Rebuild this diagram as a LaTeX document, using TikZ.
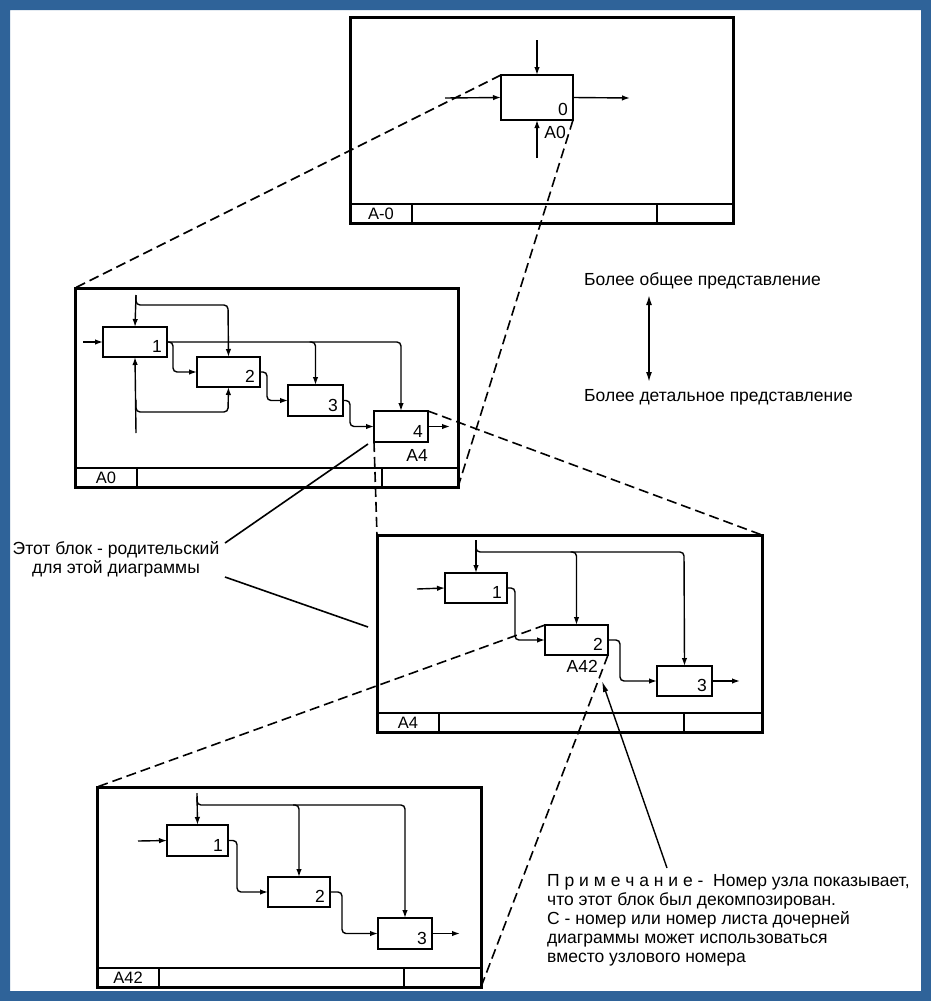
\documentclass[tikz,border=0pt]{standalone}
\usepackage{fontspec}
\setmainfont{Liberation Sans}
\usetikzlibrary{arrows.meta,calc}
\definecolor{bordblue}{HTML}{2F6399}
\newcommand\idframe[6]{%
  \node[frm, minimum width=#4pt, minimum height=#5pt] (#1) at (#2,#3) {};
  \draw[bar] ($(#1.south west)+(0,-19)$) -- ($(#1.south east)+(0,-19)$);
  \draw[bar] ($(#1.south west)+(62,0)$) -- ++(0,-19);
  \draw[bar] ($(#1.south west)+(307,0)$) -- ++(0,-19);
  \node[ttl] (#1t) at ($(#1.south west)+(31,-9.5)$) {#6};
}
\begin{document}
\begin{tikzpicture}[x=1pt,y=-1pt,
  frm/.style={draw, line width=3pt, inner sep=0pt, outer sep=0pt, anchor=north west},
  bar/.style={line width=2.8pt},
  blk/.style={draw, line width=2.8pt, inner sep=0pt, outer sep=0pt, anchor=north west},
  conn/.style={line width=1.4pt, rounded corners=4pt, -{Latex[length=8pt,width=5.5pt]}},
  dsh/.style={line width=1.6pt, dash pattern=on 10pt off 5pt},
  num/.style={font=\fontsize{17.5}{17.5}\selectfont, inner sep=0pt, anchor=south east},
  ttl/.style={font=\fontsize{16.5}{16.5}\selectfont, inner sep=0pt},
  txt/.style={font=\fontsize{17.5}{19}\selectfont, inner sep=0pt, align=left},
  lead/.style={line width=1.6pt}
]
\useasboundingbox (0,0) rectangle (931,1001);
\fill[white] (0,0) rectangle (931,1001);
\fill[bordblue, even odd rule] (0,0) rectangle (931,1001) (10,10) rectangle (921,991);

% ---------- frames ----------
\idframe{f0}{350}{17}{383}{206}{A-0}
\idframe{fa}{75}{288}{383}{199}{A0}
\idframe{fb}{377}{535}{385}{197}{A4}
\idframe{fc}{97}{787}{384}{200}{A42}

% ---------- A-0 ----------
\node[blk, minimum width=72pt, minimum height=45pt] (b0) at (501,75) {};
\node[num] (b0n) at ($(b0.south east)+(-5,-4)$) {0};
\node[num, anchor=north east] (b0l) at ($(b0.south east)+(-7,6)$) {A0};
\coordinate (b0c) at (537,40);
\coordinate (b0i) at (445,98);
\coordinate (b0o) at (630,98);
\coordinate (b0m) at (537,158);
\draw[conn] (b0c) -- (b0.north);
\draw[conn] (b0i) -- (b0.west);
\draw[conn] (b0.east) -- (b0o);
\draw[conn] (b0m) -- (b0.south);

% ---------- A0 ----------
\node[blk, minimum width=64pt, minimum height=30pt] (a1) at (103,327) {};
\node[blk, minimum width=63pt, minimum height=30pt] (a2) at (197,357) {};
\node[blk, minimum width=55pt, minimum height=31pt] (a3) at (288,385) {};
\node[blk, minimum width=54pt, minimum height=31pt] (a4) at (374,411) {};
\node[num] (a1n) at ($(a1.south east)+(-5,-4)$) {1};
\node[num] (a2n) at ($(a2.south east)+(-5,-4)$) {2};
\node[num] (a3n) at ($(a3.south east)+(-5,-4)$) {3};
\node[num] (a4n) at ($(a4.south east)+(-5,-4)$) {4};
\node[num, anchor=north east] (a4l) at ($(a4.south east)+(0,7)$) {A4};
\coordinate (aci) at (83,342);
\coordinate (act) at (136,295);
\coordinate (acb) at (136,433);
\draw[conn] (aci) -- (a1.west);
\draw[conn] (act) -- (a1.north);
\draw[conn] (act) |- (228,305) -- (a2.north);
\draw[conn] (acb) -- (a1.south);
\draw[conn] (136,400) |- (228,412) -- (a2.south);
\draw[conn] (a1.east) -| (a4.north);
\draw[conn] ($(a3.north |- a1.east)+(-6,0)$) -| (a3.north);
\draw[conn] (a1.east) -- ++(6,0) |- (a2.west);
\draw[conn] (a2.east) -- ++(7,0) |- (a3.west);
\draw[conn] (a3.east) -- ++(7,0) |- (a4.west);
\draw[conn] (a4.east) -- ++(22,0);

% ---------- A4 ----------
\node[blk, minimum width=62pt, minimum height=30pt] (c1) at (445,573) {};
\node[blk, minimum width=63pt, minimum height=30pt] (c2) at (545,625) {};
\node[blk, minimum width=55pt, minimum height=30pt] (c3) at (657,666) {};
\node[num] (c1n) at ($(c1.south east)+(-5,-4)$) {1};
\node[num] (c2n) at ($(c2.south east)+(-5,-4)$) {2};
\node[num] (c3n) at ($(c3.south east)+(-5,-4)$) {3};
\node[num, anchor=north east] (c2l) at ($(c2.south east)+(-10,5)$) {A42};
\coordinate (cci) at (417,589);
\coordinate (cct) at (476,540);
\draw[conn] (cci) -- (c1.west);
\draw[conn] (cct) -- (c1.north);
\draw[conn] (476,545) |- (684,552) -- (c3.north);
\draw[conn] ($(c2.north |- 0,552)+(-6,0)$) -| (c2.north);
\draw[conn] (c1.east) -- ++(8,0) |- (c2.west);
\draw[conn] (c2.east) -- ++(12,0) |- (c3.west);
\draw[conn] (c3.east) -- ++(28,0);

% ---------- A42 ----------
\node[blk, minimum width=61pt, minimum height=31pt] (d1) at (167,825) {};
\node[blk, minimum width=62pt, minimum height=30pt] (d2) at (268,877) {};
\node[blk, minimum width=54pt, minimum height=31pt] (d3) at (378,918) {};
\node[num] (d1n) at ($(d1.south east)+(-5,-4)$) {1};
\node[num] (d2n) at ($(d2.south east)+(-5,-4)$) {2};
\node[num] (d3n) at ($(d3.south east)+(-5,-4)$) {3};
\coordinate (dci) at (138,841);
\coordinate (dct) at (197,793);
\draw[conn] (dci) -- (d1.west);
\draw[conn] (dct) -- (d1.north);
\draw[conn] (197,797) |- (405,805) -- (d3.north);
\draw[conn] ($(d2.north |- 0,805)+(-6,0)$) -| (d2.north);
\draw[conn] (d1.east) -- ++(9,0) |- (d2.west);
\draw[conn] (d2.east) -- ++(12,0) |- (d3.west);
\draw[conn] (d3.east) -- ++(28,0);

% ---------- dashed projection lines ----------
\draw[dsh] (b0.north west) -- (fa.north west);
\draw[dsh] (b0.south east) -- (fa.south east);
\draw[dsh] (a4.north east) -- (fb.north east);
\draw[dsh] (a4.south west) -- (fb.north west);
\draw[dsh] (c2.north west) -- (fc.north west);
\draw[dsh] (c2.south east) -- (fc.south east);

% ---------- texts ----------
\node[txt, anchor=west] (gen) at (584,281) {Более общее представление};
\node[txt, anchor=west] (det) at (584,397) {Более детальное представление};
\coordinate (au) at (649,295);
\coordinate (ad) at (649,382);
\draw[line width=1.6pt, {Latex[length=10pt,width=6pt]}-{Latex[length=10pt,width=6pt]}] (au) -- (ad);

\node[txt, align=center] (par) at (116,559) {Этот блок - родительский\\для этой диаграммы};
\coordinate (p1) at (225,543);
\coordinate (p1e) at (368,444);
\coordinate (p2) at (225,577);
\coordinate (p2e) at (368,627);
\draw[lead] (p1) -- (p1e);
\draw[lead] (p2) -- (p2e);

\node[txt, anchor=north west] (note) at (547,874) {П р и м е ч а н и е -\ \ Номер узла показывает,\\что этот блок был декомпозирован.\\С - номер или номер листа дочерней\\диаграммы может использоваться\\вместо узлового номера};
\coordinate (nt) at (667,868);
\coordinate (nh) at (602,681);
\draw[line width=1.4pt, -{Latex[length=11pt,width=5.5pt]}] (nt) -- (nh);
\end{tikzpicture}
\end{document}
